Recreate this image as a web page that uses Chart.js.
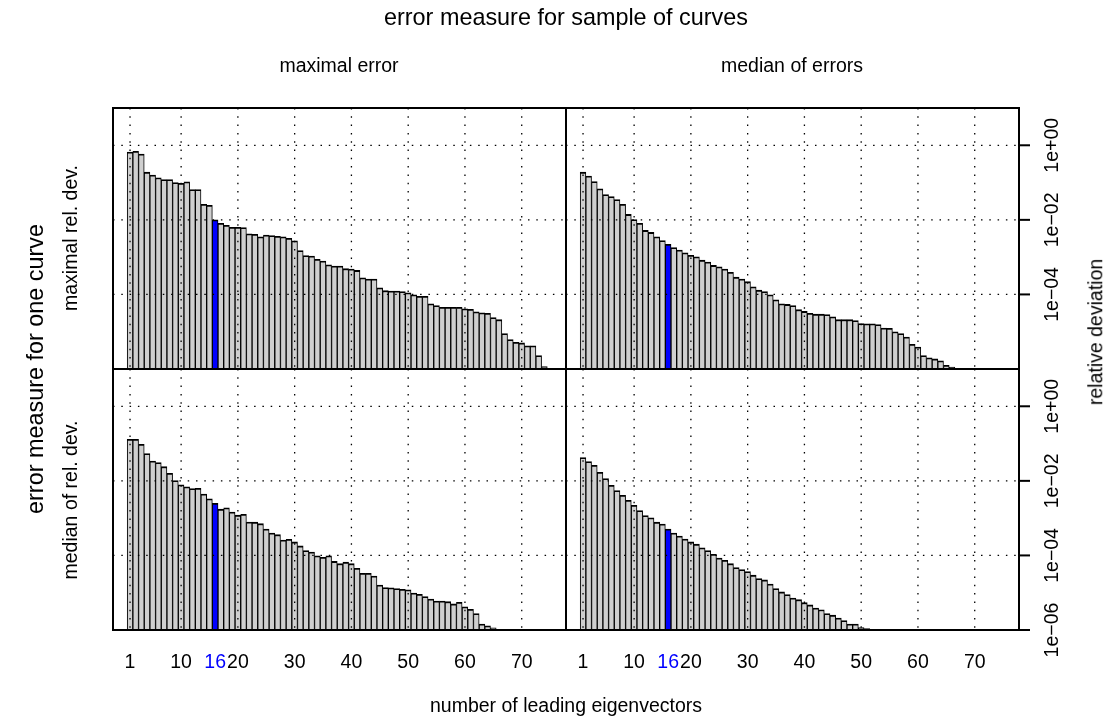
<!DOCTYPE html>
<html>
<head>
<meta charset="utf-8">
<script src="https://cdn.jsdelivr.net/npm/chart.js@4.4.1/dist/chart.umd.min.js"></script>
<style>
  html, body { margin: 0; padding: 0; background: #fff; }
  #wrap { position: relative; width: 1113px; height: 724px; font-family: "Liberation Sans", Arial, sans-serif; color: #000; }
  #wrap canvas { position: absolute; left: 0; top: 0; }
  .lbl { position: absolute; white-space: nowrap; font-size: 19.5px; line-height: 1; transform: translate(-50%, -50%); }
  .big { font-size: 23.4px; }
  .rot { transform: translate(-50%, -50%) rotate(-90deg); }
</style>
</head>
<body>
<div id="wrap">
  <canvas id="c1" width="1113" height="724"></canvas>
  <canvas id="c2" width="1113" height="724"></canvas>
  <canvas id="c3" width="1113" height="724"></canvas>
  <canvas id="c4" width="1113" height="724"></canvas>

  <div class="lbl big" style="left:566px; top:18px;">error measure for sample of curves</div>
  <div class="lbl" style="left:339px; top:66px;">maximal error</div>
  <div class="lbl" style="left:792px; top:66px;">median of errors</div>
  <div class="lbl big rot" style="left:36px; top:369px;">error measure for one curve</div>
  <div class="lbl rot" style="left:71px; top:238px;">maximal rel. dev.</div>
  <div class="lbl rot" style="left:71px; top:500px;">median of rel. dev.</div>
  <div class="lbl rot" style="left:1096px; top:332px;">relative deviation</div>
  <div class="lbl" style="left:566px; top:706px;">number of leading eigenvectors</div>
</div>

<script>
// number of leading eigenvectors (bar positions)
const eigenvectors = Array.from({ length: 76 }, (_, i) => i + 1);
const chosenK = 16;

// maximal relative deviation, max over sample of curves
const maxDevMaxErr = [
  6.6e-1, 6.9e-1, 5.8e-1, 1.9e-1, 1.6e-1, 1.35e-1, 1.2e-1, 1.2e-1, 1.0e-1, 9.5e-2,
  1.05e-1, 6.5e-2, 6.5e-2, 2.6e-2, 2.45e-2, 1.0e-2, 8.1e-3, 7.1e-3, 6.3e-3, 6.3e-3,
  6.2e-3, 4.2e-3, 4.1e-3, 3.5e-3, 3.9e-3, 3.8e-3, 3.6e-3, 3.5e-3, 3.2e-3, 2.75e-3,
  1.5e-3, 1.1e-3, 1.07e-3, 8.7e-4, 7.9e-4, 6.2e-4, 5.75e-4, 5.75e-4, 4.9e-4, 4.8e-4,
  4.4e-4, 2.8e-4, 2.6e-4, 2.6e-4, 1.5e-4, 1.26e-4, 1.23e-4, 1.23e-4, 1.2e-4, 1.1e-4,
  9.8e-5, 8.9e-5, 8.9e-5, 5.6e-5, 5.0e-5, 4.5e-5, 4.5e-5, 4.5e-5, 4.5e-5, 4.1e-5,
  4.0e-5, 3.4e-5, 3.2e-5, 3.1e-5, 2.4e-5, 2.1e-5, 8.9e-6, 6.2e-6, 5.2e-6, 5.0e-6,
  4.2e-6, 4.2e-6, 2.3e-6, 1.17e-6, null, null
];

// maximal relative deviation, median over sample of curves
const maxDevMedErr = [
  1.9e-1, 1.5e-1, 1.07e-1, 6.8e-2, 4.8e-2, 4.2e-2, 3.5e-2, 2.6e-2, 1.4e-2, 1.02e-2,
  8.1e-3, 5.2e-3, 4.6e-3, 3.5e-3, 2.8e-3, 2.2e-3, 1.8e-3, 1.55e-3, 1.3e-3, 1.12e-3,
  1.02e-3, 8.3e-4, 7.4e-4, 6.0e-4, 5.5e-4, 4.8e-4, 3.9e-4, 2.9e-4, 2.6e-4, 2.2e-4,
  1.6e-4, 1.3e-4, 1.2e-4, 9.8e-5, 7.2e-5, 5.6e-5, 5.4e-5, 5.0e-5, 3.9e-5, 3.5e-5,
  3.1e-5, 2.95e-5, 2.95e-5, 2.9e-5, 2.5e-5, 2.1e-5, 2.1e-5, 2.1e-5, 2.0e-5, 1.66e-5,
  1.62e-5, 1.62e-5, 1.55e-5, 1.26e-5, 1.23e-5, 1.0e-5, 8.9e-6, 7.2e-6, 4.6e-6, 3.9e-6,
  2.3e-6, 2.0e-6, 1.86e-6, 1.66e-6, 1.26e-6, 1.12e-6, null, null, null, null,
  null, null, null, null, null, null
];

// median relative deviation, max over sample of curves
const medDevMaxErr = [
  1.3e-1, 1.3e-1, 9.5e-2, 5.4e-2, 3.4e-2, 3.1e-2, 2.4e-2, 1.6e-2, 1.02e-2, 7.8e-3,
  6.9e-3, 6.2e-3, 6.3e-3, 4.4e-3, 3.3e-3, 2.5e-3, 1.74e-3, 1.9e-3, 1.45e-3, 1.2e-3,
  1.26e-3, 7.9e-4, 7.8e-4, 7.1e-4, 5.1e-4, 4.0e-4, 3.6e-4, 2.6e-4, 2.7e-4, 2.3e-4,
  1.8e-4, 1.35e-4, 1.23e-4, 9.8e-5, 8.9e-5, 9.8e-5, 6.9e-5, 6.0e-5, 6.6e-5, 6.0e-5,
  4.5e-5, 3.3e-5, 3.3e-5, 2.8e-5, 1.6e-5, 1.38e-5, 1.35e-5, 1.29e-5, 1.23e-5, 1.2e-5,
  9.8e-6, 9.1e-6, 7.9e-6, 6.8e-6, 6.0e-6, 6.0e-6, 5.75e-6, 5.0e-6, 5.5e-6, 4.2e-6,
  3.6e-6, 2.75e-6, 1.45e-6, 1.29e-6, 1.15e-6, null, null, null, null, null,
  null, null, null, null, null, null
];

// median relative deviation, median over sample of curves
const medDevMedErr = [
  4.2e-2, 3.3e-2, 2.6e-2, 1.7e-2, 1.15e-2, 7.6e-3, 5.5e-3, 4.1e-3, 3.0e-3, 2.2e-3,
  1.6e-3, 1.17e-3, 1.02e-3, 7.8e-4, 6.9e-4, 5.1e-4, 4.0e-4, 3.3e-4, 2.75e-4, 2.3e-4,
  2.0e-4, 1.6e-4, 1.35e-4, 1.07e-4, 8.5e-5, 7.4e-5, 6.0e-5, 4.7e-5, 4.2e-5, 3.7e-5,
  2.95e-5, 2.4e-5, 2.2e-5, 1.7e-5, 1.29e-5, 1.05e-5, 8.9e-6, 7.2e-6, 6.5e-6, 5.4e-6,
  4.7e-6, 3.9e-6, 3.5e-6, 2.75e-6, 2.5e-6, 2.1e-6, 1.8e-6, 1.45e-6, 1.45e-6, 1.17e-6,
  1.1e-6, null, null, null, null, null, null, null, null, null,
  null, null, null, null, null, null, null, null, null, null,
  null, null, null, null, null, null
];

const xTicks = [1, 10, 16, 20, 30, 40, 50, 60, 70];
const xGrid = [1, 10, 20, 30, 40, 50, 60, 70];
const yGrid = [1, 1e-2, 1e-4];
const yTicksTop = [1, 1e-2, 1e-4];
const yTicksBottom = [1, 1e-2, 1e-4, 1e-6];
const yTickText = { 1: '1e+00', 1e-2: '1e\u221202', 1e-4: '1e\u221204', 1e-6: '1e\u221206' };

const FONT = '19.5px "Liberation Sans", Arial, sans-serif';

// frame, dotted grid and outer axis labels for one panel
const panelFrame = {
  id: 'panelFrame',
  afterDatasetsDraw(chart, args, opts) {
    const { ctx, chartArea: a, scales: { x, y } } = chart;
    ctx.save();

    ctx.strokeStyle = '#000';
    ctx.lineWidth = 1.3;
    ctx.setLineDash([1.5, 6.8]);
    xGrid.forEach(v => {
      const px = x.getPixelForValue(v);
      ctx.beginPath(); ctx.moveTo(px, a.top); ctx.lineTo(px, a.bottom); ctx.stroke();
    });
    yGrid.forEach(v => {
      const py = y.getPixelForValue(v);
      ctx.beginPath(); ctx.moveTo(a.left, py); ctx.lineTo(a.right, py); ctx.stroke();
    });
    ctx.setLineDash([]);

    ctx.lineWidth = 2;
    ctx.strokeRect(a.left, a.top, a.right - a.left, a.bottom - a.top);

    ctx.font = FONT;
    if (opts.xLabels) {
      ctx.textAlign = 'center';
      ctx.textBaseline = 'middle';
      xTicks.forEach(v => {
        ctx.fillStyle = v === chosenK ? '#0000ff' : '#000';
        ctx.fillText(String(v), x.getPixelForValue(v), a.bottom + 33);
      });
    }
    if (opts.yTicks) {
      ctx.fillStyle = '#000';
      ctx.textAlign = 'center';
      ctx.textBaseline = 'middle';
      opts.yTicks.forEach(v => {
        const py = y.getPixelForValue(v);
        ctx.beginPath(); ctx.moveTo(a.right, py); ctx.lineTo(a.right + 11, py); ctx.stroke();
        ctx.save();
        ctx.translate(a.right + 34, py);
        ctx.rotate(-Math.PI / 2);
        ctx.fillText(yTickText[v], 0, 0);
        ctx.restore();
      });
    }
    ctx.restore();
  }
};

function makePanel(id, values, box, decor) {
  const W = 1113, H = 724;
  return new Chart(document.getElementById(id), {
    type: 'bar',
    data: {
      datasets: [{
        data: eigenvectors.map((k, i) => ({ x: k, y: values[i] })),
        backgroundColor: eigenvectors.map(k => k === chosenK ? '#0000ff' : '#cfcfcf'),
        borderColor: '#000',
        borderWidth: { top: 1.8, left: 1, right: 1, bottom: 0 },
        borderSkipped: 'start',
        categoryPercentage: 1,
        barPercentage: 1
      }]
    },
    options: {
      responsive: false,
      animation: false,
      events: [],
      layout: { padding: { left: box[0], top: box[1], right: W - box[2], bottom: H - box[3] } },
      plugins: { legend: { display: false }, tooltip: { enabled: false }, panelFrame: decor },
      scales: {
        x: { type: 'linear', min: -2, max: 77.8, offset: false, display: false },
        y: { type: 'logarithmic', min: 1e-6, max: 10, display: false }
      }
    },
    plugins: [panelFrame]
  });
}

makePanel('c1', maxDevMaxErr, [113, 108, 566, 369], { xLabels: false, yTicks: null });
makePanel('c2', maxDevMedErr, [566, 108, 1019, 369], { xLabels: false, yTicks: yTicksTop });
makePanel('c3', medDevMaxErr, [113, 369, 566, 630], { xLabels: true, yTicks: null });
makePanel('c4', medDevMedErr, [566, 369, 1019, 630], { xLabels: true, yTicks: yTicksBottom });
</script>
</body>
</html>
